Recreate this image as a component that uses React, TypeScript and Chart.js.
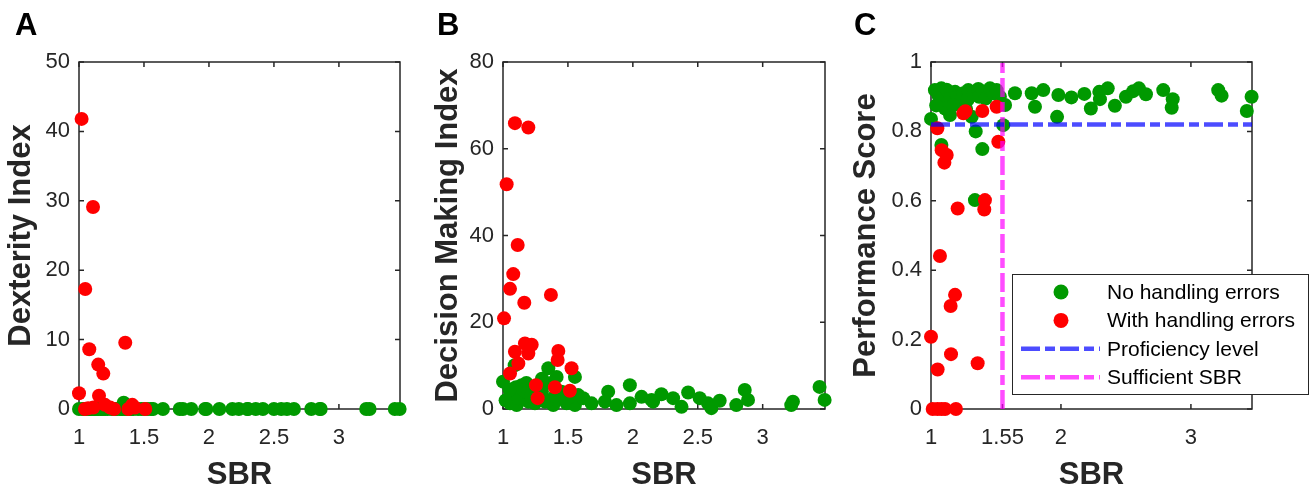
import React, { useEffect, useRef } from 'react';
import { Chart, registerables } from 'chart.js';

Chart.register(...registerables);

const FONT = "'Liberation Sans', Arial, Helvetica, sans-serif";
const AXIS_COLOR = '#262626';
const GREEN = '#009900';
const RED = '#ff0000';
const BLUE = 'rgba(0,0,255,0.7)';
const MAGENTA = 'rgba(255,0,255,0.7)';

// Subjects without handling errors (panels A and C share SBR)
const greenSBR = [1.0, 1.03, 1.056, 1.08, 1.08, 1.06, 1.09, 1.108, 1.12, 1.146, 1.15, 1.185, 1.2, 1.22, 1.25, 1.287, 1.28, 1.313, 1.33, 1.338, 1.344, 1.364, 1.37, 1.395, 1.4, 1.42, 1.454, 1.48, 1.505, 1.53, 1.556, 1.57, 1.646, 1.775, 1.8, 1.864, 1.97, 1.98, 2.08, 2.18, 2.23, 2.295, 2.3, 2.36, 2.415, 2.5, 2.556, 2.6, 2.654, 2.787, 2.86, 2.852, 3.21, 3.236, 3.43, 3.467, 1.12, 1.17, 1.27, 1.04];
const greenDexterity = [0, 0, 0, 0, 0, 0, 0, 0, 0, 0, 0, 0, 0, 0, 0, 0, 0, 0, 0, 0, 0.9, 0, 0, 0, 0, 0, 0, 0, 0, 0, 0, 0, 0, 0, 0, 0, 0, 0, 0, 0, 0, 0, 0, 0, 0, 0, 0, 0, 0, 0, 0, 0, 0, 0, 0, 0, 0, 0, 0, 0];
const greenPerformance = [0.836, 0.919, 0.905, 0.924, 0.761, 0.88, 0.9, 0.866, 0.92, 0.847, 0.895, 0.914, 0.9, 0.88, 0.91, 0.919, 0.89, 0.842, 0.91, 0.602, 0.8, 0.922, 0.9, 0.749, 0.915, 0.895, 0.924, 0.91, 0.919, 0.9, 0.818, 0.876, 0.91, 0.91, 0.871, 0.919, 0.842, 0.905, 0.898, 0.908, 0.866, 0.914, 0.893, 0.924, 0.874, 0.9, 0.916, 0.924, 0.907, 0.919, 0.893, 0.868, 0.919, 0.903, 0.859, 0.9, 0.865, 0.875, 0.865, 0.875];

const greenSBR_B = [1.0, 1.09, 1.054, 1.105, 1.144, 1.195, 1.246, 1.285, 1.323, 1.349, 1.387, 1.413, 1.451, 1.49, 1.554, 1.579, 1.554, 1.618, 1.682, 1.81, 1.785, 1.874, 1.977, 1.977, 2.067, 2.144, 2.22, 2.156, 2.31, 2.375, 2.426, 2.515, 2.579, 2.605, 2.669, 2.797, 2.862, 2.887, 3.233, 3.22, 3.438, 3.477, 1.02, 1.07, 1.12, 1.17, 1.22, 1.27, 1.3, 1.35, 1.4, 1.45, 1.5, 1.18, 1.1, 1.05, 1.3, 1.37];
const greenDecision = [6.3, 10.1, 1.3, 0.9, 5.5, 1.7, 1.3, 5.9, 1.7, 9.4, 0.9, 7.4, 2.8, 1.3, 7.4, 3.2, 0.9, 2.5, 1.3, 4.0, 1.7, 0.9, 5.5, 1.3, 2.8, 2.1, 3.4, 1.7, 2.5, 0.5, 3.8, 2.5, 1.3, 0.2, 1.9, 0.9, 4.4, 2.1, 1.7, 0.9, 5.1, 2.1, 2.0, 3.5, 2.5, 4.0, 3.0, 2.5, 4.0, 2.0, 3.0, 4.0, 2.5, 6.0, 5.0, 4.5, 7.0, 6.0];

// Subjects with handling errors
const redSBR_A = [1.02, 1.108, 1.048, 1.079, 1.356, 1.148, 1.187, 1.0, 1.154, 1.046, 1.07, 1.11, 1.2, 1.24, 1.27, 1.38, 1.41, 1.43, 1.51];
const redDexterity = [41.8, 29.1, 17.3, 8.6, 9.55, 6.4, 5.1, 2.26, 1.9, 0, 0.1, 0.2, 0.6, 0.2, 0, 0, 0.6, 0.2, 0];

const redSBR_B = [1.092, 1.195, 1.028, 1.113, 1.079, 1.054, 1.164, 1.008, 1.369, 1.169, 1.221, 1.092, 1.195, 1.426, 1.421, 1.528, 1.118, 1.054, 1.254, 1.4, 1.515, 1.267];
const redDecision = [65.9, 64.9, 51.8, 37.8, 31.1, 27.7, 24.5, 20.9, 26.3, 15.1, 14.8, 13.2, 12.8, 13.4, 11.3, 9.4, 10.5, 8.2, 5.5, 5.0, 4.2, 2.5];

const redSBR_C = [1.049, 1.082, 1.121, 1.103, 1.249, 1.265, 1.395, 1.505, 1.518, 1.415, 1.41, 1.205, 1.069, 1.185, 1.151, 1.0, 1.154, 1.051, 1.359, 1.013, 1.049, 1.08, 1.108, 1.192];
const redPerformance = [0.809, 0.746, 0.732, 0.71, 0.852, 0.858, 0.859, 0.871, 0.77, 0.602, 0.575, 0.578, 0.441, 0.329, 0.297, 0.208, 0.158, 0.114, 0.132, 0, 0, 0, 0, 0];

const proficiencyLevel = 0.82;
const sufficientSBR = 1.55;

const xTicksAB = [1, 1.5, 2, 2.5, 3];
const xTicksC = [1, 1.55, 2, 3];
const yTicksA = [0, 10, 20, 30, 40, 50];
const yTicksB = [0, 20, 40, 60, 80];
const yTicksC = [0, 0.2, 0.4, 0.6, 0.8, 1];

const legendLabels = ['No handling errors', 'With handling errors', 'Proficiency level', 'Sufficient SBR'];

const W = 1312;
const H = 486;
const PLOT_TOP = 62;
const PLOT_BOTTOM = 409;
const TITLE_SIZE = 31;
const DASH = [19, 5, 10, 5];
const MARKER_R = 7;

const pts = (xs: number[], ys: number[]) => xs.map((x, i) => ({ x, y: ys[i] }));

const matlabAxes = {
  id: 'matlabAxes',
  beforeDatasetsDraw(chart: any) {
    const { ctx, chartArea, scales } = chart;
    const { left, right, top, bottom } = chartArea;
    ctx.save();
    ctx.strokeStyle = AXIS_COLOR;
    ctx.lineWidth = 1.5;
    ctx.strokeRect(left, top, right - left, bottom - top);
    const L = 5;
    ctx.beginPath();
    scales.x.ticks.forEach((t: any) => {
      const p = scales.x.getPixelForValue(t.value);
      ctx.moveTo(p, bottom);
      ctx.lineTo(p, bottom - L);
      ctx.moveTo(p, top);
      ctx.lineTo(p, top + L);
    });
    scales.y.ticks.forEach((t: any) => {
      const p = scales.y.getPixelForValue(t.value);
      ctx.moveTo(left, p);
      ctx.lineTo(left + L, p);
      ctx.moveTo(right, p);
      ctx.lineTo(right - L, p);
    });
    ctx.stroke();
    ctx.restore();
  },
  afterDraw(chart: any, _args: any, opts: any) {
    const { ctx } = chart;
    ctx.save();
    ctx.fillStyle = '#000';
    ctx.font = `bold ${TITLE_SIZE}px ${FONT}`;
    ctx.textAlign = 'left';
    ctx.textBaseline = 'alphabetic';
    ctx.fillText(opts.letter, opts.letterX, 35);
    if (opts.legend) {
      const lg = opts.legend;
      ctx.fillStyle = '#fff';
      ctx.fillRect(lg.left, lg.top, lg.width, lg.height);
      ctx.strokeStyle = AXIS_COLOR;
      ctx.lineWidth = 1;
      ctx.strokeRect(lg.left + 0.5, lg.top + 0.5, lg.width, lg.height);
      chart.data.datasets.forEach((ds: any, i: number) => {
        const y = lg.top + lg.firstRow + i * lg.rowGap;
        if (ds.type === 'line') {
          ctx.save();
          ctx.setLineDash(ds.borderDash || []);
          ctx.strokeStyle = ds.borderColor;
          ctx.lineWidth = ds.borderWidth;
          ctx.beginPath();
          ctx.moveTo(lg.lineX0, y);
          ctx.lineTo(lg.lineX1, y);
          ctx.stroke();
          ctx.restore();
        } else {
          ctx.beginPath();
          ctx.arc(lg.markerX, y, 7.5, 0, Math.PI * 2);
          ctx.fillStyle = ds.backgroundColor;
          ctx.fill();
        }
        ctx.fillStyle = '#000';
        ctx.font = `21px ${FONT}`;
        ctx.textBaseline = 'middle';
        ctx.fillText(ds.label, lg.textX, y + 1);
      });
    }
    ctx.restore();
  },
};

type PanelDef = {
  letter: string;
  letterX: number;
  plotLeft: number;
  plotRight: number;
  titleCenterX: number;
  xMax: number;
  yMax: number;
  yTitle: string;
  xTicks: number[];
  yTicks: number[];
  datasets: any[];
  legend?: any;
};

const scatterDs = (label: string, data: any[], color: string, order: number) => ({
  type: 'scatter',
  label,
  data,
  backgroundColor: color,
  borderWidth: 0,
  pointRadius: MARKER_R,
  pointHoverRadius: MARKER_R,
  pointBorderWidth: 0,
  clip: false,
  order,
});

const panels: PanelDef[] = [
  {
    letter: 'A',
    letterX: 15,
    plotLeft: 79,
    plotRight: 400,
    titleCenterX: 21,
    xMax: 3.47,
    yMax: 50,
    yTitle: 'Dexterity Index',
    xTicks: xTicksAB,
    yTicks: yTicksA,
    datasets: [
      scatterDs(legendLabels[0], pts(greenSBR, greenDexterity), GREEN, 2),
      scatterDs(legendLabels[1], pts(redSBR_A, redDexterity), RED, 1),
    ],
  },
  {
    letter: 'B',
    letterX: 437,
    plotLeft: 503,
    plotRight: 825,
    titleCenterX: 448,
    xMax: 3.48,
    yMax: 80,
    yTitle: 'Decision Making Index',
    xTicks: xTicksAB,
    yTicks: yTicksB,
    datasets: [
      scatterDs(legendLabels[0], pts(greenSBR_B, greenDecision), GREEN, 2),
      scatterDs(legendLabels[1], pts(redSBR_B, redDecision), RED, 1),
    ],
  },
  {
    letter: 'C',
    letterX: 854,
    plotLeft: 931,
    plotRight: 1252,
    titleCenterX: 866,
    xMax: 3.47,
    yMax: 1,
    yTitle: 'Performance Score',
    xTicks: xTicksC,
    yTicks: yTicksC,
    datasets: [
      scatterDs(legendLabels[0], pts(greenSBR, greenPerformance), GREEN, 2),
      scatterDs(legendLabels[1], pts(redSBR_C, redPerformance), RED, 1),
      {
        type: 'line',
        label: legendLabels[2],
        data: [{ x: 1, y: proficiencyLevel }, { x: 3.47, y: proficiencyLevel }],
        borderColor: BLUE,
        borderWidth: 4.5,
        borderDash: DASH,
        pointRadius: 0,
        fill: false,
        clip: false,
        order: 0,
      },
      {
        type: 'line',
        label: legendLabels[3],
        data: [{ x: sufficientSBR, y: 0 }, { x: sufficientSBR, y: 1 }],
        borderColor: MAGENTA,
        borderWidth: 4.5,
        borderDash: DASH,
        pointRadius: 0,
        fill: false,
        clip: false,
        order: 0,
      },
    ],
    legend: {
      left: 1012,
      top: 274,
      width: 296,
      height: 120,
      firstRow: 18,
      rowGap: 28.4,
      markerX: 1061,
      lineX0: 1021,
      lineX1: 1100,
      textX: 1107,
    },
  },
];

function makeConfig(p: PanelDef): any {
  const padLeft = p.titleCenterX - TITLE_SIZE / 2;
  return {
    type: 'scatter',
    data: { datasets: p.datasets },
    options: {
      animation: false,
      responsive: false,
      events: [],
      layout: {
        padding: { left: padLeft, right: W - p.plotRight, top: PLOT_TOP, bottom: 0 },
      },
      scales: {
        x: {
          type: 'linear',
          position: 'bottom',
          min: 1,
          max: p.xMax,
          afterBuildTicks: (s: any) => {
            s.ticks = p.xTicks.map((v) => ({ value: v }));
          },
          afterFit: (s: any) => {
            s.height = H - PLOT_BOTTOM;
          },
          grid: { display: false, drawTicks: false },
          border: { display: false },
          ticks: {
            padding: 16,
            color: AXIS_COLOR,
            font: { family: FONT, size: 22 },
            maxRotation: 0,
            autoSkip: false,
            callback: (v: any) => String(v),
          },
          title: {
            display: true,
            text: 'SBR',
            color: AXIS_COLOR,
            font: { family: FONT, size: TITLE_SIZE, weight: 'bold', lineHeight: 0.7 },
            padding: { top: 0, bottom: 0 },
          },
        },
        y: {
          type: 'linear',
          position: 'left',
          min: 0,
          max: p.yMax,
          afterBuildTicks: (s: any) => {
            s.ticks = p.yTicks.map((v) => ({ value: v }));
          },
          afterFit: (s: any) => {
            s.width = p.plotLeft - padLeft;
          },
          grid: { display: false, drawTicks: false },
          border: { display: false },
          ticks: {
            padding: 9,
            color: AXIS_COLOR,
            font: { family: FONT, size: 22 },
            autoSkip: false,
            callback: (v: any) => String(v),
          },
          title: {
            display: true,
            text: p.yTitle,
            color: AXIS_COLOR,
            font: { family: FONT, size: TITLE_SIZE, weight: 'bold', lineHeight: 1 },
            padding: { top: 0, bottom: 0 },
          },
        },
      },
      plugins: {
        legend: { display: false },
        tooltip: { enabled: false },
        title: { display: false },
        matlabAxes: { letter: p.letter, letterX: p.letterX, legend: p.legend },
      },
    },
    plugins: [matlabAxes],
  };
}

function Panel({ def }: { def: PanelDef }) {
  const ref = useRef<HTMLCanvasElement | null>(null);
  useEffect(() => {
    if (!ref.current) return;
    const chart = new Chart(ref.current, makeConfig(def));
    return () => chart.destroy();
  }, [def]);
  return (
    <canvas
      ref={ref}
      width={W}
      height={H}
      style={{ position: 'absolute', left: 0, top: 0, width: W, height: H }}
    />
  );
}

export default function App() {
  return (
    <div style={{ position: 'absolute', left: 0, top: 0, width: W, height: H, background: '#fff', overflow: 'hidden' }}>
      {panels.map((p) => (
        <Panel key={p.letter} def={p} />
      ))}
    </div>
  );
}
